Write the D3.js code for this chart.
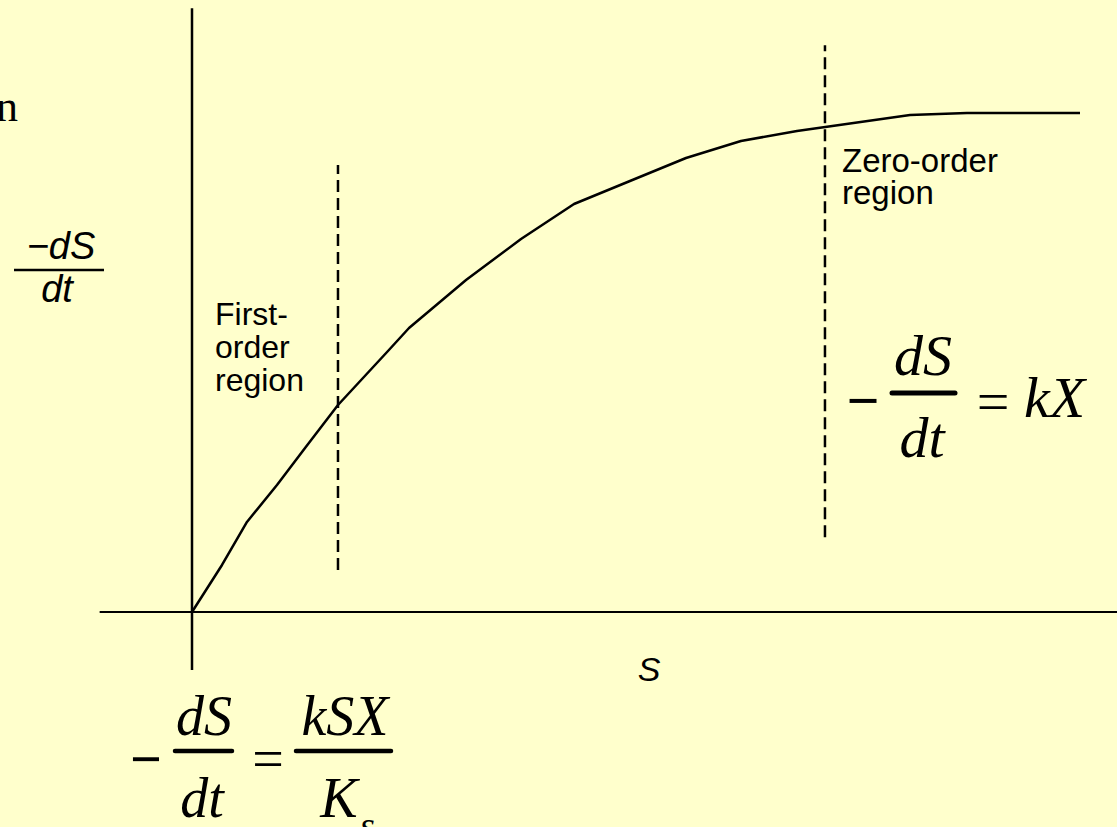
<!DOCTYPE html>
<html><head><meta charset="utf-8">
<script src="https://cdn.jsdelivr.net/npm/d3@7"></script>
<style>html,body{margin:0;padding:0;background:#FFFFCC;overflow:hidden}</style>
</head><body>
<script>
// Substrate concentration S (relative units) and reaction rate -dS/dt (relative units)
const substrate = [0, 3.38, 6.19, 9.57, 12.73, 16.44, 22.07, 24.44, 30.86, 37.05, 43.02, 49.32, 55.63, 61.82, 68.13, 80.86, 87.27, 93.58, 100];
const rate      = [0, 9.42, 18.04, 25.45, 32.87, 41.48, 52.30, 56.91, 66.53, 74.75, 81.76, 86.37, 90.98, 94.39, 96.39, 99.60, 100, 100, 100];
// region boundaries (S value, bottom rate, top rate)
const regionNames = ["First-order region", "Zero-order region"];
const regionS = [16.44, 71.28];
const regionLow = [8.4, 15.0];
const regionHigh = [89.6, 113.6];
const axisXExtent = [-10.4, 104.2];
const axisYExtent = [-11.6, 121];

const W = 1117, H = 827;
const svg = d3.select("body").append("svg").attr("width", W).attr("height", H);
svg.append("rect").attr("width", W).attr("height", H).attr("fill", "#FFFFCC");

const x = d3.scaleLinear().domain([0, 100]).range([192, 1080]);
const y = d3.scaleLinear().domain([0, 100]).range([612, 113]);

// axes
svg.append("line").attr("x1", x(axisXExtent[0])).attr("x2", x(axisXExtent[1]))
  .attr("y1", y(0)).attr("y2", y(0)).attr("stroke", "#000").attr("stroke-width", 2.2);
svg.append("line").attr("x1", x(0)).attr("x2", x(0))
  .attr("y1", y(axisYExtent[0])).attr("y2", y(axisYExtent[1])).attr("stroke", "#000").attr("stroke-width", 2.5);

// dashed region boundaries
svg.selectAll(".reg").data(regionS).join("line")
  .attr("x1", d => x(d)).attr("x2", d => x(d))
  .attr("y1", (d, i) => y(regionLow[i])).attr("y2", (d, i) => y(regionHigh[i]))
  .attr("stroke", "#000").attr("stroke-width", 2.5).attr("stroke-dasharray", "12,6");

// curve
const pts = substrate.map((s, i) => [s, rate[i]]);
svg.append("path").datum(pts)
  .attr("d", d3.line().x(d => x(d[0])).y(d => y(d[1])))
  .attr("fill", "none").attr("stroke", "#000").attr("stroke-width", 2.5).attr("stroke-linejoin", "round");

const sans = "'Liberation Sans', Arial, sans-serif";
const serif = "'Liberation Serif', 'Times New Roman', serif";

function txt(t, px, py, opts) {
  const o = Object.assign({size: 32, family: sans, anchor: "start", style: "normal", weight: "normal"}, opts || {});
  return svg.append("text").attr("x", px).attr("y", py).text(t)
    .attr("font-family", o.family).attr("font-size", o.size).attr("font-weight", o.weight)
    .attr("font-style", o.style).attr("text-anchor", o.anchor).attr("fill", "#000");
}

// cut-off title fragment
txt("n", 18, 121, {family: serif, size: 44, anchor: "end"});

// y-axis label
txt("\u2212dS", 61, 259, {size: 38, style: "italic", anchor: "middle"});
svg.append("line").attr("x1", 14).attr("x2", 104).attr("y1", 270).attr("y2", 270).attr("stroke", "#000").attr("stroke-width", 2.5);
txt("dt", 57, 302, {size: 38, style: "italic", anchor: "middle"});

// x-axis label
txt("S", 649, 681, {size: 34, style: "italic", anchor: "middle"});

// region labels
const firstLines = ["First-", "order", "region"];
firstLines.forEach((l, i) => txt(l, 215, 325 + i * 33, {size: 32}));
const zeroLines = ["Zero-order", "region"];
zeroLines.forEach((l, i) => txt(l, 842, 172 + i * 32, {size: 33}));

// right equation: -dS/dt = kX
txt("\u2212", 863, 420, {family: serif, size: 58, anchor: "middle", weight: "bold"});
txt("dS", 923, 375, {family: serif, size: 58, style: "italic", anchor: "middle"});
svg.append("line").attr("x1", 892).attr("x2", 955).attr("y1", 393).attr("y2", 393).attr("stroke", "#000").attr("stroke-width", 5).attr("stroke-linecap", "round");
txt("dt", 922, 457, {family: serif, size: 58, style: "italic", anchor: "middle"});
txt("=", 993, 421, {family: serif, size: 58, anchor: "middle"});
txt("kX", 1024, 417, {family: serif, size: 58, style: "italic"});

// bottom equation: -dS/dt = kSX/Ks
txt("\u2212", 146, 778, {family: serif, size: 56, anchor: "middle", weight: "bold"});
txt("dS", 204, 735, {family: serif, size: 56, style: "italic", anchor: "middle"});
svg.append("line").attr("x1", 175).attr("x2", 232).attr("y1", 751).attr("y2", 751).attr("stroke", "#000").attr("stroke-width", 4.5).attr("stroke-linecap", "round");
txt("dt", 202, 817, {family: serif, size: 56, style: "italic", anchor: "middle"});
txt("=", 268, 778, {family: serif, size: 56, anchor: "middle"});
txt("kSX", 345, 735, {family: serif, size: 56, style: "italic", anchor: "middle"});
svg.append("line").attr("x1", 296).attr("x2", 391).attr("y1", 751).attr("y2", 751).attr("stroke", "#000").attr("stroke-width", 4.5).attr("stroke-linecap", "round");
txt("K", 339, 817, {family: serif, size: 56, style: "italic", anchor: "middle"});
txt("s", 360, 838, {family: serif, size: 38, style: "italic"});
</script>
</body></html>
